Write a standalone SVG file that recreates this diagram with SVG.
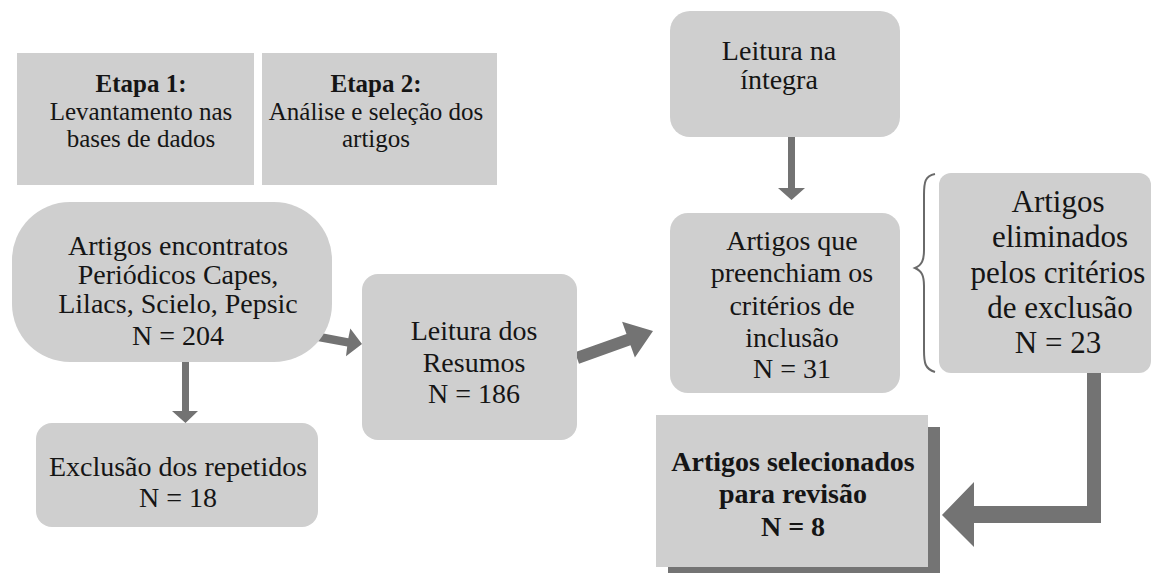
<svg xmlns="http://www.w3.org/2000/svg" width="1151" height="574" viewBox="0 0 1151 574">
<style>
.box{fill:#cfcfcf}
.shadow{fill:#747474}
.arrow{fill:#737373}
.brace{fill:none;stroke:#6a6a6a;stroke-width:2}
text{fill:#151515;text-anchor:middle;font-family:'Liberation Serif',Tinos,'Times New Roman',Times,serif}
.s{font-size:25px}
.t{font-size:28px}
.l{font-size:31px}
.b{font-weight:bold}
</style>
<rect width="1151" height="574" fill="#ffffff"/>
<g id="connectors">
<polygon class="arrow" points="182,362 189,362 189,411 198,411 185.5,423 172,411 182,411"/>
<polygon class="arrow" points="788,137 795,137 795,188 805,188 791.5,200 778,188 788,188"/>
<polygon class="arrow" points="315.6,332.1 348.3,338.3 350.3,328.6 362,344 346,356.3 347.2,346.6 314.4,340.4"/>
<polygon class="arrow" points="575,352.3 626.5,334.1 622.1,321.8 653,331 634.9,357.6 630.5,345.3 579,363.7"/>
<polygon class="arrow" points="1087,373 1101,373 1101,523 974,523 974,547 942,515 974,482 974,506 1087,506"/>
<path class="brace" d="M935,174 C925,176 924,182 924,195 L924,250 C924,260 922,265 915,268 C922,271 924,276 924,286 L924,350 C924,363 925,369 935,372"/>
</g>
<g id="etapa1">
<rect class="box" x="17" y="53" width="237" height="132"/>
<text class="s b" x="141" y="92">Etapa 1:</text>
<text class="s" x="141" y="120">Levantamento nas</text>
<text class="s" x="141" y="147">bases de dados</text>
</g>
<g id="etapa2">
<rect class="box" x="262" y="53" width="235" height="132"/>
<text class="s b" x="376" y="92">Etapa 2:</text>
<text class="s" x="376" y="120">An&#225;lise e sele&#231;&#227;o dos</text>
<text class="s" x="376" y="147">artigos</text>
</g>
<g id="encontrados">
<rect class="box" x="12" y="202" width="320" height="160" rx="58" ry="58"/>
<text class="t" x="178" y="255">Artigos encontratos</text>
<text class="t" x="178" y="284">Peri&#243;dicos Capes,</text>
<text class="t" x="178" y="313">Lilacs, Scielo, Pepsic</text>
<text class="t" x="178" y="345">N = 204</text>
</g>
<g id="exclusao">
<rect class="box" x="36" y="423" width="282" height="104" rx="16" ry="16"/>
<text class="t" x="178" y="476">Exclus&#227;o dos repetidos</text>
<text class="t" x="178" y="507">N = 18</text>
</g>
<g id="resumos">
<rect class="box" x="362" y="274" width="215" height="166" rx="16" ry="16"/>
<text class="t" x="474" y="340">Leitura dos</text>
<text class="t" x="474" y="372">Resumos</text>
<text class="t" x="474" y="403">N = 186</text>
</g>
<g id="integra">
<rect class="box" x="670" y="11" width="230" height="126" rx="20" ry="20"/>
<text class="t" x="779" y="60">Leitura na</text>
<text class="t" x="779" y="89">&#237;ntegra</text>
</g>
<g id="inclusao">
<rect class="box" x="670" y="213" width="230" height="180" rx="18" ry="18"/>
<text class="t" x="792" y="250">Artigos que</text>
<text class="t" x="792" y="282">preenchiam os</text>
<text class="t" x="792" y="315">crit&#233;rios de</text>
<text class="t" x="792" y="347">inclus&#227;o</text>
<text class="t" x="792" y="378">N = 31</text>
</g>
<g id="eliminados">
<rect class="box" x="939" y="173" width="212" height="200" rx="12" ry="12"/>
<text class="l" x="1058" y="212">Artigos</text>
<text class="l" x="1060" y="247">eliminados</text>
<text class="l" x="1058" y="283">pelos crit&#233;rios</text>
<text class="l" x="1060" y="318">de exclus&#227;o</text>
<text class="l" x="1058" y="353">N = 23</text>
</g>
<g id="selecionados">
<rect class="shadow" x="668" y="427" width="272" height="146"/>
<rect class="box" x="656" y="415" width="272" height="152"/>
<text class="t b" x="793" y="471">Artigos selecionados</text>
<text class="t b" x="793" y="503">para revis&#227;o</text>
<text class="t b" x="793" y="536">N = 8</text>
</g>
</svg>
